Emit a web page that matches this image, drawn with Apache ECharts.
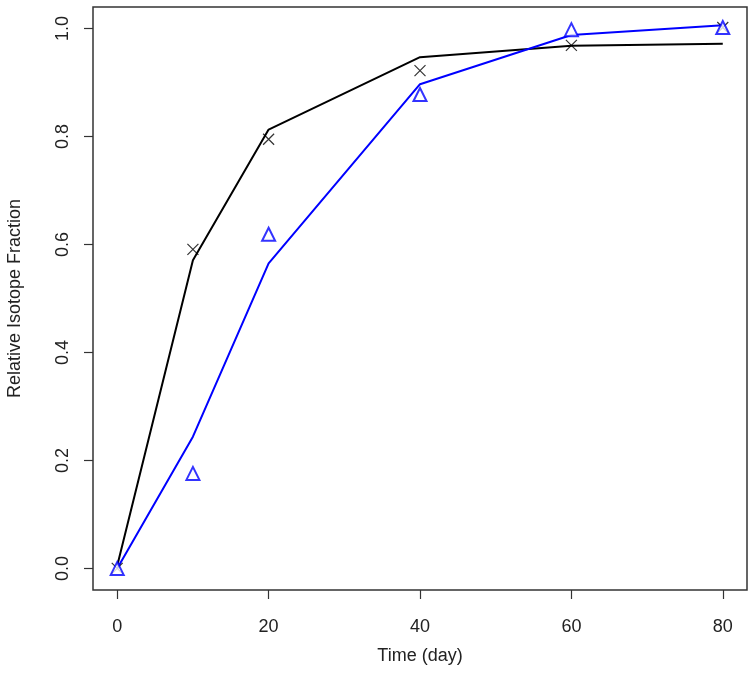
<!DOCTYPE html>
<html><head><meta charset="utf-8">
<script src="https://cdn.jsdelivr.net/npm/echarts@6/dist/echarts.min.js"></script>
<style>html,body{margin:0;padding:0;background:#fff}#c{width:754px;height:673px}</style>
</head><body><div id="c"></div>
<script>
var days = [0, 10, 20, 40, 60, 80];
var xTicks = [0, 20, 40, 60, 80];
var yTicks = [0.0, 0.2, 0.4, 0.6, 0.8, 1.0];
var blackObs = [0.0, 0.591, 0.795, 0.922, 0.969, 1.002];
var blackFit = [0.005, 0.571, 0.813, 0.947, 0.968, 0.972];
var blueObs = [0.0, 0.176, 0.619, 0.878, 0.998, 1.002];
var blueFit = [0.0, 0.244, 0.565, 0.897, 0.988, 1.006];

function pairs(xs, ys){ return xs.map(function(x,i){ return [x, ys[i]]; }); }
var font = 'Liberation Sans, Arial, Helvetica, sans-serif';
var chart = echarts.init(document.getElementById('c'));
chart.setOption({
  animation: false,
  backgroundColor: '#fff',
  grid: {left: 93, top: 7, right: 7, bottom: 83, containLabel: false, outerBoundsMode: 'none',
    show: true, borderColor: '#333', borderWidth: 1.5, backgroundColor: 'transparent'},
  xAxis: {
    type: 'value', min: -3.2, max: 83.2,
    name: 'Time (day)', nameLocation: 'middle', nameGap: 57,
    nameTextStyle: {fontFamily: font, fontSize: 18, color: '#222'},
    axisLine: {show: false, onZero: false},
    splitLine: {show: false},
    axisTick: {show: true, inside: false, length: 9, lineStyle: {color: '#333', width: 1.2}, customValues: xTicks},
    axisLabel: {fontFamily: font, fontSize: 18, color: '#222', margin: 28, customValues: xTicks, showMinLabel: true, showMaxLabel: true}
  },
  yAxis: {
    type: 'value', min: -0.04, max: 1.04,
    name: 'Relative Isotope Fraction', nameLocation: 'middle', nameGap: 69,
    nameTextStyle: {fontFamily: font, fontSize: 18, color: '#222'},
    axisLine: {show: false, onZero: false},
    splitLine: {show: false},
    axisTick: {show: true, inside: false, length: 9, lineStyle: {color: '#333', width: 1.2}, customValues: yTicks},
    axisLabel: {fontFamily: font, fontSize: 18, color: '#222', margin: 21, rotate: 90, customValues: yTicks,
      formatter: function(v){ return v.toFixed(1); }}
  },
  series: [
    {type: 'line', data: pairs(days, blackFit), showSymbol: false, symbol: 'none', lineStyle: {color: '#000', width: 2}, z: 2},
    {type: 'line', data: pairs(days, blueFit), showSymbol: false, symbol: 'none', lineStyle: {color: '#0000ff', width: 2}, z: 3},
    {type: 'scatter', data: pairs(days, blackObs), symbol: 'path://M0,0L10,10M10,0L0,10', symbolSize: 11,
      itemStyle: {color: 'none', borderColor: '#000', borderWidth: 1.2}, z: 4},
    {type: 'scatter', data: pairs(days, blueObs), symbol: 'emptyTriangle', symbolSize: 13,
      itemStyle: {color: '#0000ff', borderColor: '#0000ff', borderWidth: 1.2}, z: 5}
  ]
});
</script></body></html>
